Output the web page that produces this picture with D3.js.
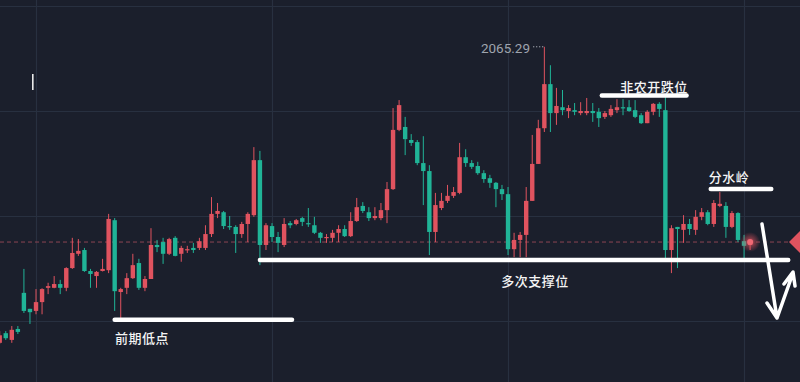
<!DOCTYPE html>
<html>
<head>
<meta charset="utf-8">
<script src="https://cdn.jsdelivr.net/npm/d3@7"></script>
<style>
  html, body { margin: 0; padding: 0; background: #1b1f2c; }
  svg { display: block; }
</style>
</head>
<body>
<div id="chart"></div>
<script>
// [open, high, low, close] per bar
const ohlc = [
  [1994.8, 1997.6, 1994.5, 1996.6], [1997.1, 1997.6, 1995.5, 1995.9], [1995.5, 1998.8, 1994.8, 1997.9],
  [1998.1, 1998.8, 1996.9, 1997.4], [2006.7, 2012.4, 2001.9, 2002.4], [2002.9, 2002.9, 1999.3, 2002.1],
  [2002.4, 2007.6, 2001.6, 2004.5], [2004.5, 2007.8, 2001.6, 2007.6], [2007.9, 2009.1, 2006.4, 2008.3],
  [2007.9, 2010.7, 2007.8, 2008.8], [2008.8, 2009.8, 2006.4, 2007.9], [2007.9, 2012.8, 2007.1, 2012.6],
  [2012.6, 2019.8, 2012.4, 2016.2], [2016.0, 2019.5, 2015.5, 2016.7], [2016.9, 2017.4, 2011.7, 2011.9],
  [2011.9, 2012.4, 2007.9, 2011.2], [2010.7, 2011.9, 2007.9, 2011.7], [2011.9, 2014.8, 2011.8, 2012.4],
  [2012.1, 2025.5, 2011.4, 2024.3], [2024.0, 2024.5, 2002.4, 2007.1], [2006.9, 2007.9, 2000.7, 2007.6],
  [2007.9, 2011.4, 2006.4, 2010.2], [2010.2, 2016.0, 2010.0, 2013.3], [2013.8, 2014.8, 2007.4, 2007.9],
  [2007.9, 2010.7, 2007.1, 2010.0], [2010.0, 2022.1, 2010.0, 2018.1], [2018.1, 2019.3, 2016.4, 2017.6],
  [2018.8, 2019.8, 2013.6, 2016.0], [2016.0, 2019.8, 2015.7, 2019.5], [2019.8, 2020.2, 2015.4, 2015.5],
  [2016.0, 2017.9, 2014.1, 2017.4], [2016.9, 2017.9, 2016.2, 2017.1], [2017.4, 2018.6, 2016.2, 2016.9],
  [2017.4, 2019.8, 2016.9, 2019.0], [2017.4, 2022.8, 2016.9, 2020.7], [2020.7, 2029.5, 2020.0, 2025.5],
  [2025.5, 2028.1, 2024.5, 2026.2], [2025.9, 2026.2, 2021.9, 2022.6], [2022.6, 2025.0, 2021.7, 2022.4],
  [2022.4, 2022.8, 2016.2, 2020.7], [2020.7, 2023.6, 2019.8, 2023.1], [2023.1, 2025.9, 2018.8, 2025.5],
  [2025.2, 2041.4, 2024.8, 2038.3], [2038.3, 2040.5, 2013.3, 2018.1], [2018.1, 2023.3, 2016.9, 2022.8],
  [2022.6, 2023.3, 2018.8, 2020.0], [2020.0, 2021.2, 2016.4, 2018.6], [2018.1, 2024.5, 2017.6, 2023.1],
  [2023.3, 2023.8, 2022.1, 2022.8], [2023.1, 2024.3, 2022.8, 2024.0], [2024.5, 2024.8, 2022.6, 2023.6],
  [2023.3, 2026.9, 2022.4, 2023.1], [2022.8, 2024.8, 2020.7, 2021.0], [2021.0, 2021.2, 2018.6, 2019.8],
  [2019.8, 2020.7, 2018.6, 2020.0], [2019.8, 2021.7, 2018.8, 2021.0], [2021.0, 2022.8, 2018.8, 2021.9],
  [2021.9, 2022.8, 2020.0, 2020.2], [2020.2, 2025.9, 2020.0, 2023.8], [2023.8, 2029.3, 2023.6, 2027.1],
  [2027.4, 2028.3, 2025.7, 2026.2], [2025.9, 2027.1, 2023.8, 2024.5], [2024.5, 2027.1, 2024.0, 2025.0],
  [2024.5, 2028.1, 2024.0, 2026.4], [2026.4, 2033.1, 2023.3, 2031.4], [2031.4, 2050.7, 2031.2, 2045.5],
  [2045.5, 2052.6, 2045.2, 2051.4], [2046.2, 2048.6, 2039.5, 2043.3], [2043.1, 2044.5, 2041.7, 2042.4],
  [2042.6, 2043.1, 2037.1, 2037.6], [2037.6, 2044.0, 2027.6, 2035.7], [2035.7, 2037.1, 2015.7, 2021.2],
  [2021.2, 2030.5, 2018.8, 2027.6], [2026.9, 2030.5, 2026.4, 2028.6], [2028.6, 2032.4, 2028.1, 2029.8],
  [2029.8, 2031.9, 2029.3, 2030.7], [2030.5, 2042.4, 2030.2, 2039.0], [2039.0, 2040.9, 2036.7, 2037.6],
  [2037.6, 2038.3, 2036.2, 2036.7], [2036.9, 2037.9, 2034.8, 2035.2], [2035.2, 2035.9, 2032.9, 2033.8],
  [2034.0, 2034.8, 2031.7, 2032.9], [2032.9, 2033.1, 2027.1, 2031.4], [2031.4, 2032.4, 2028.8, 2030.2],
  [2030.2, 2031.9, 2015.7, 2017.1], [2017.1, 2021.0, 2015.2, 2019.3], [2019.3, 2021.2, 2015.2, 2020.5],
  [2020.5, 2031.9, 2015.2, 2028.6], [2028.6, 2044.3, 2028.6, 2037.4], [2037.4, 2047.9, 2037.4, 2045.9],
  [2045.9, 2065.29, 2045.0, 2056.4], [2056.4, 2060.9, 2045.0, 2049.5], [2049.5, 2055.5, 2046.7, 2051.2],
  [2050.9, 2055.0, 2049.0, 2050.2], [2050.0, 2051.4, 2048.3, 2050.7], [2050.2, 2051.9, 2049.0, 2049.8],
  [2049.5, 2052.1, 2049.0, 2050.0], [2049.5, 2053.1, 2049.0, 2050.0], [2050.0, 2051.9, 2047.4, 2049.5],
  [2049.8, 2050.7, 2046.2, 2048.3], [2048.6, 2050.0, 2048.1, 2049.5], [2049.0, 2051.4, 2048.6, 2050.5],
  [2050.2, 2052.8, 2049.5, 2050.9], [2050.9, 2052.8, 2049.0, 2050.7], [2050.9, 2052.6, 2049.8, 2050.0],
  [2050.2, 2052.6, 2048.3, 2048.6], [2049.0, 2049.5, 2046.9, 2047.1], [2047.1, 2050.2, 2047.1, 2049.8],
  [2049.8, 2051.9, 2049.0, 2051.7], [2051.7, 2052.1, 2048.6, 2050.5], [2050.2, 2053.8, 2014.5, 2016.9],
  [2016.9, 2022.8, 2011.4, 2022.1], [2022.4, 2022.4, 2012.6, 2021.9], [2021.7, 2025.2, 2018.6, 2023.1],
  [2023.1, 2024.3, 2020.5, 2021.9], [2021.7, 2026.4, 2020.5, 2024.8], [2024.8, 2026.9, 2024.0, 2025.9],
  [2025.9, 2026.4, 2022.8, 2023.1], [2023.1, 2028.8, 2022.4, 2028.1], [2027.4, 2030.7, 2027.1, 2027.9],
  [2027.4, 2028.3, 2019.8, 2022.4], [2022.4, 2026.2, 2022.1, 2025.7], [2025.7, 2025.9, 2018.8, 2019.3],
  [2019.0, 2020.5, 2015.0, 2017.9], [2018.1, 2019.3, 2016.9, 2018.8]
];

const priceGrid = [2075, 2050, 2025, 2000];
const timeGrid = [6, 45, 84, 123];          // bar index of the vertical grid lines
const peakIndex = 90;
const peakLabel = "2065.29";

// hand-drawn annotations: [text, price of the line, first bar, last bar]
const noteTexts = ["前期低点", "多次支撑位", "非农开跌位", "分水岭"];
const notePrices = [2000.3, 2014.5, 2053.7, 2031.4];
const noteFrom = [19, 43, 99.5, 117.5];
const noteTo = [48.3, 130.3, 113.5, 127.5];

const width = 800, height = 382;
const bg = "#1b1f2c";
const upColor = "#e0535f";
const downColor = "#20b497";

const svg = d3.select("#chart").append("svg")
    .attr("width", width)
    .attr("height", height)
    .style("background", bg);

const x = d3.scaleLinear().domain([0, ohlc.length - 1]).range([-0.3, 750.1]);
const y = d3.scaleLinear().domain([2050, 2000]).range([111, 321]);
const barW = 4.4;

// Grid
svg.append("g").selectAll("line.h")
    .data(priceGrid)
    .join("line")
    .attr("x1", 0).attr("x2", width)
    .attr("y1", d => Math.round(y(d)) + 0.5)
    .attr("y2", d => Math.round(y(d)) + 0.5)
    .attr("stroke", "#283040")
    .attr("stroke-width", 1.2);

svg.append("g").selectAll("line.v")
    .data(timeGrid)
    .join("line")
    .attr("y1", 0).attr("y2", height)
    .attr("x1", d => Math.round(x(d)) + 0.5)
    .attr("x2", d => Math.round(x(d)) + 0.5)
    .attr("stroke", "#283040")
    .attr("stroke-width", 1.2);

// Last price line
const last = ohlc[ohlc.length - 1];
svg.append("line")
    .attr("x1", 0).attr("x2", 790)
    .attr("y1", y(last[3])).attr("y2", y(last[3]))
    .attr("stroke", "#8c4553")
    .attr("stroke-width", 1)
    .attr("stroke-dasharray", "4,3");

// Candles
const bars = svg.append("g")
    .selectAll("g")
    .data(ohlc)
    .join("g")
    .attr("fill", d => d[3] >= d[0] ? upColor : downColor)
    .attr("stroke", d => d[3] >= d[0] ? upColor : downColor);

bars.append("line")
    .attr("x1", (d, i) => x(i)).attr("x2", (d, i) => x(i))
    .attr("y1", d => y(d[1]))
    .attr("y2", d => y(d[2]))
    .attr("stroke-width", 1);

bars.append("rect")
    .attr("x", (d, i) => x(i) - barW / 2)
    .attr("width", barW)
    .attr("y", d => y(Math.max(d[0], d[3])))
    .attr("height", d => Math.max(1.2, Math.abs(y(d[0]) - y(d[3]))))
    .attr("stroke", "none");

// Glow on the live bar
const defs = svg.append("defs");
const glow = defs.append("radialGradient").attr("id", "glow");
glow.append("stop").attr("offset", "0%").attr("stop-color", upColor).attr("stop-opacity", 0.9);
glow.append("stop").attr("offset", "45%").attr("stop-color", upColor).attr("stop-opacity", 0.45);
glow.append("stop").attr("offset", "100%").attr("stop-color", upColor).attr("stop-opacity", 0);

svg.append("circle")
    .attr("cx", x(ohlc.length - 1)).attr("cy", y(last[3]))
    .attr("r", 10)
    .attr("fill", "url(#glow)");
svg.append("circle")
    .attr("cx", x(ohlc.length - 1)).attr("cy", y(last[3]))
    .attr("r", 3)
    .attr("fill", "#f06a75");

// Price marker on the right edge
const my = y(last[3]);
svg.append("path")
    .attr("d", `M789,${my} L801,${my - 12} L813,${my} L801,${my + 12} Z`)
    .attr("fill", upColor);

// Peak label
const peakY = y(ohlc[peakIndex][1]);
svg.append("line")
    .attr("x1", 533).attr("x2", x(peakIndex) - 1)
    .attr("y1", peakY).attr("y2", peakY)
    .attr("stroke", "#a3a8b2")
    .attr("stroke-width", 1)
    .attr("stroke-dasharray", "1.3,1.7");
svg.append("text")
    .attr("x", 530).attr("y", peakY + 1.5)
    .attr("text-anchor", "end")
    .attr("dominant-baseline", "central")
    .attr("fill", "#9fa4ae")
    .style("font-family", "Roboto, 'Noto Sans', sans-serif")
    .style("font-size", "13.5px")
    .text(peakLabel);

// Hand-drawn white lines and notes
const notes = noteTexts.map((t, i) => ({ t, p: notePrices[i], a: noteFrom[i], b: noteTo[i] }));
const ink = svg.append("g");

ink.selectAll("line")
    .data(notes)
    .join("line")
    .attr("x1", d => x(d.a)).attr("x2", d => x(d.b))
    .attr("y1", d => y(d.p)).attr("y2", d => y(d.p))
    .attr("stroke", "#ffffff")
    .attr("stroke-width", 4.5)
    .attr("stroke-linecap", "round");

const labelPos = [[142, 337], [535, 280], [654, 86], [729, 176.5]];
ink.selectAll("text")
    .data(notes)
    .join("text")
    .attr("x", (d, i) => labelPos[i][0])
    .attr("y", (d, i) => labelPos[i][1])
    .attr("text-anchor", "middle")
    .attr("dominant-baseline", "central")
    .attr("fill", "#f4f4f4")
    .style("font-family", "'Noto Sans CJK SC', sans-serif")
    .style("font-size", "13px")
    .style("font-weight", "500")
    .style("letter-spacing", "0.5px")
    .text(d => d.t);

// arrow sketch (down then up)
const arrow = d3.line();
ink.append("path")
    .attr("d", arrow([[762, 224], [777, 318]]) + arrow([[767, 303], [777, 318], [793, 273]]) + arrow([[784, 284], [793, 272], [795, 286]]))
    .attr("fill", "none")
    .attr("stroke", "#ffffff")
    .attr("stroke-width", 3.5)
    .attr("stroke-linecap", "round")
    .attr("stroke-linejoin", "round");

// little cursor mark top-left
ink.append("rect")
    .attr("x", 32).attr("y", 74)
    .attr("width", 1.6).attr("height", 16)
    .attr("fill", "#e8e8e8");
</script>
</body>
</html>
